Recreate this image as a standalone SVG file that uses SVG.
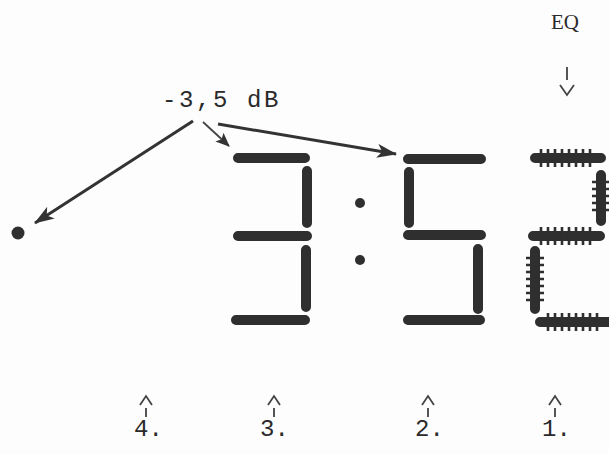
<svg xmlns="http://www.w3.org/2000/svg" width="609" height="454" viewBox="0 0 609 454">
<style>
.seg{stroke:#2f2f2f;stroke-width:10;stroke-linecap:round;fill:none}
.hat{stroke:#2f2f2f;stroke-width:2.6;fill:none}
.mono{font-family:"Liberation Mono","Courier New",monospace;fill:#2a2a2a}
.serif{font-family:"Liberation Serif","Times New Roman",serif;fill:#2a2a2a}
.ln{stroke:#333;stroke-width:3;fill:none}
.thin{stroke:#444;stroke-width:1.8;fill:none}
</style>
<defs>
<marker id="ah" markerUnits="userSpaceOnUse" markerWidth="22" markerHeight="14" refX="19" refY="7" orient="auto">
<path d="M0,0 L20,7 L0,14 L5,7 z" fill="#333"/>
</marker>
<marker id="ahs" markerUnits="userSpaceOnUse" markerWidth="16" markerHeight="12" refX="13" refY="6" orient="auto">
<path d="M0,0 L14,6 L0,12 L3,6 z" fill="#333"/>
</marker>
</defs>
<rect width="609" height="454" fill="#fdfdfd"/>

<g id="label-db"><text class="mono" x="162" y="107" font-size="24" letter-spacing="2.6">-3,5 dB</text></g>
<g id="label-eq"><text class="serif" x="551" y="29" font-size="21">EQ</text>
<path class="thin" d="M567,67 V80 M560,85 L567,95 L574,85"/></g>

<g id="dot4"><circle cx="18" cy="233" r="6.5" fill="#2f2f2f"/></g>

<g id="digit3">
<path class="seg" d="M238,158 H305 M307,171 V223 M238,236 H307 M306,250 V307 M236,320 H305"/>
</g>
<g id="colon">
<circle cx="360" cy="203" r="5" fill="#2f2f2f"/>
<circle cx="360" cy="260" r="5" fill="#2f2f2f"/>
</g>
<g id="digit5">
<path class="seg" d="M408,159 H481 M409,172 V223 M408,235 H481 M478,249 V309 M408,320 H480"/>
</g>
<g id="digit2">
<path class="seg" d="M535,158 H601 M601,175 V221 M533,236 H600 M535,251 V309 M540,322 H609"/>
<path class="hat" d="M541,149V167M548,149V167M555,149V167M562,149V167M569,149V167M576,149V167M583,149V167M590,149V167
M592,182H609M592,189H609M592,196H609M592,203H609M592,210H609
M541,227V245M548,227V245M555,227V245M562,227V245M569,227V245M576,227V245M583,227V245M590,227V245
M526,258H544M526,265H544M526,272H544M526,279H544M526,286H544M526,293H544M526,300H544
M548,313V331M555,313V331M562,313V331M569,313V331M576,313V331M583,313V331M590,313V331M597,313V331"/>
</g>

<g id="connectors">
<line class="ln" x1="193" y1="121" x2="35" y2="223" marker-end="url(#ah)"/>
<line class="thin" x1="203" y1="122" x2="229" y2="146" marker-end="url(#ahs)"/>
<line class="ln" x1="218" y1="124" x2="396" y2="154" marker-end="url(#ah)"/>
</g>

<g id="markers">
<path class="thin" d="M140,405 L146,396 L152,405 M146,408 V417"/>
<path class="thin" d="M268,405 L274,396 L280,405 M274,408 V417"/>
<path class="thin" d="M422,405 L428,396 L434,405 M428,408 V417"/>
<path class="thin" d="M549,405 L555,396 L561,405 M555,408 V417"/>
<text class="mono" x="134" y="436" font-size="24">4.</text>
<text class="mono" x="260" y="436" font-size="24">3.</text>
<text class="mono" x="415" y="436" font-size="24">2.</text>
<text class="mono" x="542" y="436" font-size="24">1.</text>
</g>
</svg>
